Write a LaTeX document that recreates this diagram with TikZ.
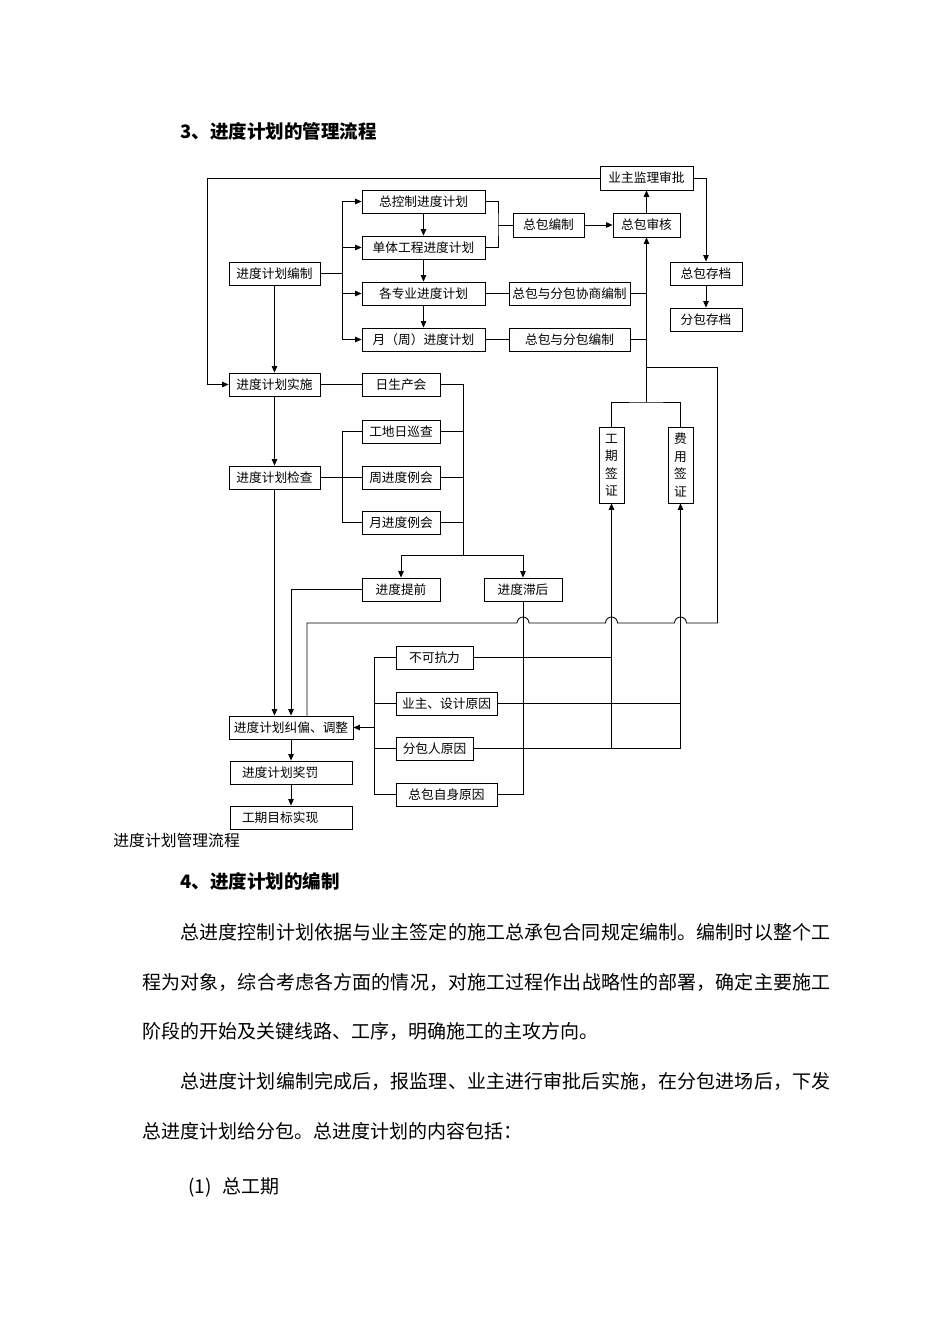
\documentclass[tikz,border=0pt]{standalone}
\usepackage{fontspec}
\setmainfont{Noto Sans CJK SC}
\usetikzlibrary{arrows.meta}
\makeatletter
\def\spreadchars#1{#1\futurelet\spr@next\spr@check}
\def\spr@check{\ifx\spr@next\relax\expandafter\@gobble\else\hskip0pt plus 1fil\relax\expandafter\spreadchars\fi}
\makeatother
\newcommand\bx[6]{\node[box,minimum width=#4pt,minimum height=#5pt] (#1) at (#2,#3) {#6};}
\begin{document}
\begin{tikzpicture}[x=1pt,y=-1pt,line width=0.85pt,
  box/.style={draw,line width=0.85pt,inner sep=0pt,font=\fontsize{12.7}{14}\selectfont},
  vbox/.style={box,minimum width=25pt,minimum height=76pt,align=center,font=\fontsize{12.7}{17.5}\selectfont},
  arr/.style={-{Triangle[length=6.5pt,width=5.5pt]}},
  body/.style={anchor=west,inner sep=0pt,font=\fontsize{19}{19}\selectfont},
  head/.style={anchor=west,inner sep=0pt,font=\fontsize{18.5}{18.5}\selectfont\bfseries},
  captext/.style={anchor=west,inner sep=0pt,font=\fontsize{15.8}{15.8}\selectfont}]
\useasboundingbox (0,0) rectangle (950,1344);
\fill[white] (0,0) rectangle (950,1344);

% headings and text
\node[head] (t3) at (180,131) {3、进度计划的管理流程};
\node[captext] (capt) at (113,840) {进度计划管理流程};
\node[head] (t4) at (180,881) {4、进度计划的编制};
\node[body] (p1) at (180,932) {\makebox[650pt][s]{\spreadchars 总进度控制计划依据与业主签定的施工总承包合同规定编制。编制时以整个工\relax}};
\node[body] (p2) at (142,982) {\makebox[688pt][s]{\spreadchars 程为对象，综合考虑各方面的情况，对施工过程作出战略性的部署，确定主要施工\relax}};
\node[body] (p3) at (142,1031) {阶段的开始及关键线路、工序，明确施工的主攻方向。};
\node[body] (p4) at (180,1081) {\makebox[650pt][s]{\spreadchars 总进度计划编制完成后，报监理、业主进行审批后实施，在分包进场后，下发\relax}};
\node[body] (p5) at (142,1131) {总进度计划给分包。总进度计划的内容包括：};
\node[body] (p6) at (188,1187) {(1)\hspace{11pt}总工期};

% boxes
\bx{yzjl}{646.5}{178}{93}{24}{业主监理审批}
\bx{zkz}{423.5}{201.5}{123}{23}{总控制进度计划}
\bx{dt}{423.5}{247.5}{123}{23}{单体工程进度计划}
\bx{gzy}{423.5}{293.5}{123}{23}{各专业进度计划}
\bx{yz}{423.5}{339.5}{123}{23}{月（周）进度计划}
\bx{bz}{274.5}{273.5}{91}{23}{进度计划编制}
\bx{zbbz}{548.5}{225}{71}{24}{总包编制}
\bx{zbsh}{646.5}{225}{67}{24}{总包审核}
\bx{xs}{569.5}{293.5}{121}{23}{总包与分包协商编制}
\bx{fbbz}{569.5}{339.5}{121}{23}{总包与分包编制}
\bx{zbcd}{706}{273.5}{72}{23}{总包存档}
\bx{fbcd}{706}{319.5}{72}{23}{分包存档}
\bx{ss}{274.5}{384.5}{91}{23}{进度计划实施}
\bx{rsc}{401}{384.5}{78}{23}{日生产会}
\bx{xcc}{401}{431.5}{78}{23}{工地日巡查}
\bx{jc}{274.5}{477.5}{91}{23}{进度计划检查}
\bx{zjd}{401}{477.5}{78}{23}{周进度例会}
\bx{yjd}{401}{522.5}{78}{23}{月进度例会}
\bx{tq}{401}{589.5}{78}{23}{进度提前}
\bx{zh}{523}{589.5}{78}{23}{进度滞后}
\node[vbox] (gq) at (611.5,465) {工\\期\\签\\证};
\node[vbox] (fy) at (680.5,465) {费\\用\\签\\证};
\bx{bkk}{434.5}{657.5}{77}{23}{不可抗力}
\bx{yzsj}{446.5}{703.5}{101}{23}{业主、设计原因}
\bx{fbr}{434.5}{748.5}{77}{23}{分包人原因}
\bx{zbzs}{446.5}{794.5}{101}{23}{总包自身原因}
\bx{jp}{291}{727.5}{124}{23}{进度计划纠偏、调整}
\bx{jf}{291}{772.5}{122}{23}{\makebox[98pt][l]{进度计划奖罚}}
\bx{mb}{291}{817.5}{122}{23}{\makebox[98pt][l]{工期目标实现}}

% coordinates for junctions
\coordinate (tl) at (207,178);
\coordinate (b1) at (342,273.5);
\coordinate (b2) at (498,225);
\coordinate (r1) at (646.5,402);
\coordinate (r2) at (646.5,367.5);
\coordinate (r3) at (717.5,367.5);
\coordinate (m1) at (463,555);
\coordinate (k1) at (342,431.5);
\coordinate (k2) at (342,522.5);
\coordinate (c1) at (374,657.5);
\coordinate (c2) at (374,794.5);
\coordinate (c3) at (374,727.5);
\coordinate (f0) at (307,716);
\coordinate (f1) at (307,623);

% top part
\draw[arr] (yzjl.west) -- (tl) |- (ss.west);
\draw[arr] (yzjl.east) -| (zbcd.north);
\draw[arr] (zbcd.south) -- (fbcd.north);
\draw (bz.east) -- (b1);
\draw[arr] (b1) |- (zkz.west);
\draw[arr] (b1) |- (dt.west);
\draw[arr] (b1) |- (gzy.west);
\draw[arr] (b1) |- (yz.west);
\draw[arr] (zkz.south) -- (dt.north);
\draw[arr] (dt.south) -- (gzy.north);
\draw[arr] (gzy.south) -- (yz.north);
\draw (zkz.east) -| (b2) |- (dt.east);
\draw (b2) -- (zbbz.west);
\draw[arr] (zbbz.east) -- (zbsh.west);
\draw[arr] (zbsh.north) -- (yzjl.south);
\draw (gzy.east) -- (xs.west);
\draw (yz.east) -- (fbbz.west);
\draw[arr] (r1) -- (zbsh.south);
\draw (xs.east) -- (xs.east -| r1);
\draw (fbbz.east) -- (fbbz.east -| r1);
\draw (gq.north) |- (r1) -| (fy.north);

% left column
\draw[arr] (bz.south) -- (ss.north);
\draw[arr] (ss.south) -- (jc.north);
\draw[arr] (jc.south) -- (jc.south |- jp.north);
\draw (ss.east) -- (rsc.west);
\draw (jc.east) -- (zjd.west);
\draw (xcc.west) -- (k1) -- (k2) -- (yjd.west);
\draw (rsc.east) -| (m1);
\draw (xcc.east) -- (xcc.east -| m1);
\draw (zjd.east) -- (zjd.east -| m1);
\draw (yjd.east) -- (yjd.east -| m1);
\draw[arr] (m1) -| (tq.north);
\draw[arr] (m1) -| (zh.north);
\draw[arr] (tq.west) -| (jp.north);
\draw[arr] (jp.south) -- (jf.north);
\draw[arr] (jf.south) -- (mb.north);

% feedback loop with hops
\draw (f0) -- (f1) -- (517,623) arc (180:0:6pt) -- (605.5,623) arc (180:0:6pt) -- (674.5,623) arc (180:0:6pt) -- (717.5,623) -- (r3) -- (r2);

% causes
\draw (bkk.west) -- (c1) -- (c2) -- (zbzs.west);
\draw (yzsj.west) -- (yzsj.west -| c1);
\draw (fbr.west) -- (fbr.west -| c1);
\draw[arr] (c3) -- (jp.east);
\draw (bkk.east) -- (bkk.east -| gq.south);
\draw (yzsj.east) -- (yzsj.east -| fy.south);
\draw[arr] (fbr.east) -| (fy.south);
\draw[arr] (fbr.east -| gq.south) -- (gq.south);
\draw (zbzs.east) -| (zh.south);
\end{tikzpicture}
\end{document}
